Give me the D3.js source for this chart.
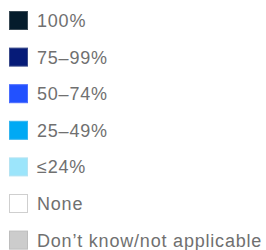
<!DOCTYPE html>
<html>
<head>
<meta charset="utf-8">
<script src="https://cdn.jsdelivr.net/npm/d3@7"></script>
<style>
  body { margin: 0; background: #fff; }
</style>
</head>
<body>
<div class="legend"></div>
<script>
var labels = ['100%', '75\u201399%', '50\u201374%', '25\u201349%', '\u226424%', 'None', 'Don\u2019t know/not applicable'];
var colors = ['#051c2c', '#061b78', '#2251ff', '#00a9f4', '#9ce5fb', '#ffffff', '#cccccc'];
var borders = ['#3a4a55', '#3a4a8a', '#4a6cff', '#33b5ef', '#b5e3f2', '#cfcfcf', '#bdbdbd'];

const width = 266, height = 250;

const svg = d3.select('.legend')
  .append('svg')
    .attr('width', width)
    .attr('height', height);

// one row per category
const y = d3.scaleBand()
  .domain(labels)
  .range([0, 256.2]);

const rows = svg.selectAll('g.row')
  .data(labels)
  .enter()
  .append('g')
    .attr('class', 'row')
    .attr('transform', d => `translate(0, ${y(d)})`);

rows.append('rect')
  .attr('x', 9.5)
  .attr('y', 11.5)
  .attr('width', 18)
  .attr('height', 18)
  .attr('fill', (d, i) => colors[i])
  .attr('stroke', (d, i) => borders[i])
  .attr('stroke-width', 1);

rows.append('text')
  .attr('x', 37)
  .attr('y', 27)
  .attr('fill', '#707070')
  .style('font-family', '"Liberation Sans", Arial, sans-serif')
  .style('font-size', '18px')
  .style('letter-spacing', '0.8px')
  .text(d => d);
</script>
</body>
</html>
